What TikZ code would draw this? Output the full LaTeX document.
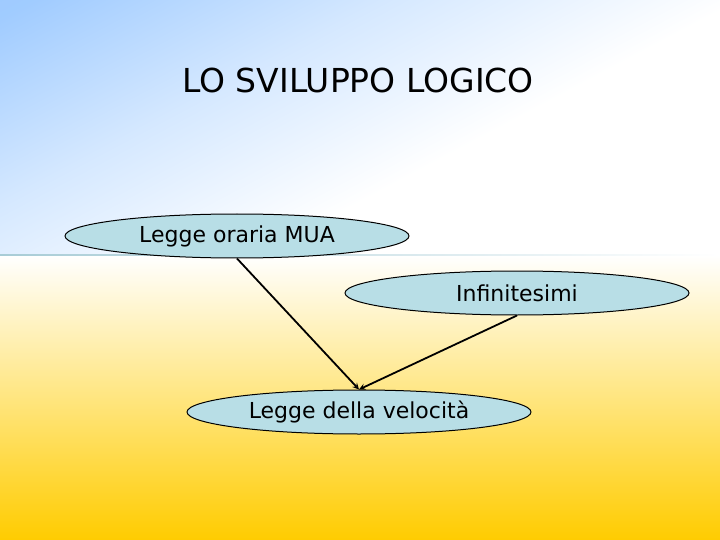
\documentclass[tikz,border=0pt]{standalone}
\usepackage{fontspec}
\setmainfont{DejaVu Sans}
\usetikzlibrary{shapes,arrows,positioning}

\definecolor{skyblue}{HTML}{96C6FF}
\definecolor{sunny}{HTML}{FFCC00}
\definecolor{peach}{HTML}{FFE4B0}
\definecolor{bubble}{HTML}{B8DEE6}
\definecolor{rule}{HTML}{A8CCD6}

\pgfdeclareverticalshading{skyfade}{100bp}{color(0bp)=(white); color(42bp)=(white); color(62bp)=(skyblue!40!white); color(82bp)=(skyblue!90!white); color(100bp)=(skyblue)}

\begin{document}
\begin{tikzpicture}[x=1pt, y=-1pt]
    % Define styles
    \tikzstyle{concept} = [ellipse, minimum width=344pt, minimum height=44pt, inner sep=0pt, text centered, draw=black, line width=1pt, fill=bubble, font=\fontsize{22}{26}\selectfont]
    \tikzstyle{arrow} = [line width=1.8pt,->,>=stealth]

    % Background
    \useasboundingbox (0,0) rectangle (720,540);
    \shade[shading=skyfade, shading angle=28] (0,0) rectangle (720,255);
    \shade[top color=white, middle color=peach, bottom color=sunny] (0,255) rectangle (720,540);
    \shade[left color=rule, right color=white] (0,254.5) rectangle (720,255.5);

    % Title
    \node [font=\fontsize{33}{39}\selectfont] (title) at (358,80) {LO SVILUPPO LOGICO};

    % Nodes
    \node [concept] (mua) at (237,236) {Legge oraria MUA};
    \node [concept] (infinitesimi) at (517,293) {Infinitesimi};
    \node [concept] (velocita) at (359,412) {Legge della velocità};

    % Arrows
    \draw [arrow] (mua.south) -- (velocita.north);
    \draw [arrow] (infinitesimi.south) -- (velocita.north);
\end{tikzpicture}
\end{document}
